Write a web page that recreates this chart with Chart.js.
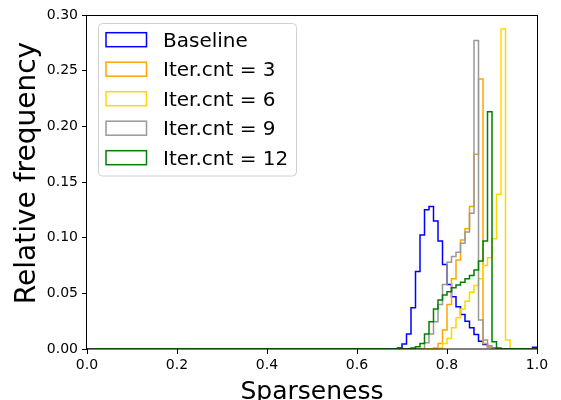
<!DOCTYPE html>
<html><head><meta charset="utf-8">
<script src="https://cdn.jsdelivr.net/npm/chart.js@4.4.0/dist/chart.umd.min.js"></script>
<style>html,body{margin:0;padding:0;background:#fff;}canvas{display:block;}</style>
</head><body>
<canvas id="c" width="561" height="400"></canvas>
<script>
// ---- data ----
const binWidth = 0.01;
const binCount = 100;
const seriesLabels = ['Baseline', 'Iter.cnt = 3', 'Iter.cnt = 6', 'Iter.cnt = 9', 'Iter.cnt = 12'];
const seriesColors = ['#0000ff', '#ffa500', '#ffd700', '#999999', '#008000'];
const xTitle = 'Sparseness';
const yTitle = 'Relative frequency';

// relative frequency per bin; first array entry is the bin index given by *Start
const baselineStart = 69;
const baselineValues = [0.001, 0.0045, 0.0135, 0.037, 0.0695, 0.1025, 0.125, 0.128, 0.115, 0.097,
  0.076, 0.058, 0.047, 0.038, 0.031, 0.025, 0.019, 0.013, 0.007, 0.004, 0.002, 0.001,
  0, 0, 0, 0, 0, 0, 0, 0, 0.0015];
const iter3Start = 77;
const iter3Values = [0.001, 0.005, 0.017, 0.04, 0.063, 0.08, 0.098, 0.108, 0.128, 0.175, 0.2425, 0.005, 0.002];
const iter6Start = 78;
const iter6Values = [0.001, 0.005, 0.0095, 0.019, 0.028, 0.036, 0.043, 0.051, 0.057, 0.063, 0.075, 0.082, 0.099, 0.139, 0.2875, 0.008];
const iter9Start = 75;
const iter9Values = [0.0057, 0.0135, 0.0245, 0.04, 0.058, 0.078, 0.083, 0.087, 0.095, 0.105, 0.122, 0.277, 0.026, 0.008, 0.003, 0.001];
const iter12Start = 72;
const iter12Values = [0.001, 0.002, 0.005, 0.0135, 0.0245, 0.036, 0.044, 0.0485, 0.0515, 0.055, 0.0575, 0.060, 0.063, 0.066, 0.071, 0.079, 0.097, 0.213, 0.0066, 0.001];

const xTicks = [0.0, 0.2, 0.4, 0.6, 0.8, 1.0];
const yTicks = [0.00, 0.05, 0.10, 0.15, 0.20, 0.25, 0.30];

// ---- build ----
function expand(start, vals) {
  const out = new Array(binCount).fill(0);
  vals.forEach((v, i) => { out[start + i] = v; });
  return out;
}
function stepPoints(counts) {
  const pts = [{x: 0, y: 0}];
  for (let i = 0; i < binCount; i++) pts.push({x: +(i * binWidth).toFixed(4), y: counts[i]});
  pts.push({x: +(binCount * binWidth).toFixed(4), y: counts[binCount - 1]});
  pts.push({x: +(binCount * binWidth).toFixed(4), y: 0});
  return pts;
}
const seriesCounts = [
  expand(baselineStart, baselineValues),
  expand(iter3Start, iter3Values),
  expand(iter6Start, iter6Values),
  expand(iter9Start, iter9Values),
  expand(iter12Start, iter12Values)
];
// later series drawn on top (Chart.js draws dataset 0 last)
const datasets = seriesCounts.map((c, i) => ({
  label: seriesLabels[i],
  data: stepPoints(c),
  borderColor: seriesColors[i],
  borderWidth: 1.5,
  pointRadius: 0,
  fill: false,
  stepped: true,
  tension: 0
})).reverse();

const FONT = 'DejaVu Sans';

const framePlugin = {
  id: 'frame',
  afterDatasetsDraw(chart) {
    const {ctx, chartArea: a} = chart;
    ctx.save();
    ctx.strokeStyle = '#000';
    ctx.lineWidth = 1;
    ctx.strokeRect(Math.round(a.left) - 0.5, Math.round(a.top) + 0.5, Math.round(a.right - a.left) + 1, Math.round(a.bottom - a.top) - 0.5);
    ctx.restore();
  }
};

const yTitlePlugin = {
  id: 'yTitle',
  afterDraw(chart) {
    const {ctx, chartArea: a} = chart;
    ctx.save();
    ctx.translate(28, (a.top + a.bottom) / 2 - 9);
    ctx.rotate(-Math.PI / 2);
    ctx.font = '28px "' + FONT + '"';
    ctx.fillStyle = '#000';
    ctx.textAlign = 'center';
    ctx.textBaseline = 'middle';
    ctx.fillText(yTitle, 0, 0);
    ctx.restore();
  }
};

const legendPlugin = {
  id: 'mplLegend',
  afterDraw(chart) {
    const {ctx, chartArea: a} = chart;
    const bx = a.left + 11, by = a.top + 8.5, bw = 198, bh = 152.5, r = 4;
    ctx.save();
    ctx.beginPath();
    ctx.roundRect(bx + 0.5, by, bw, bh, r);
    ctx.fillStyle = 'rgba(255,255,255,0.85)';
    ctx.fill();
    ctx.strokeStyle = '#d0d0d0';
    ctx.lineWidth = 1;
    ctx.stroke();
    ctx.font = '20px "' + FONT + '"';
    ctx.textBaseline = 'alphabetic';
    ctx.fillStyle = '#000';
    for (let i = 0; i < seriesLabels.length; i++) {
      const cy = by + 16.2 + i * 29.5;
      ctx.strokeStyle = seriesColors[i];
      ctx.lineWidth = 1.5;
      ctx.strokeRect(bx + 8, cy - 7, 40.5, 14);
      ctx.fillText(seriesLabels[i], bx + 65, cy + 7.2);
    }
    ctx.restore();
  }
};

new Chart(document.getElementById('c'), {
  type: 'line',
  data: {datasets},
  plugins: [framePlugin, legendPlugin, yTitlePlugin],
  options: {
    responsive: false,
    animation: false,
    devicePixelRatio: 1,
    layout: {padding: {top: 15, right: 24, left: 0, bottom: 0}},
    plugins: {legend: {display: false}, tooltip: {enabled: false}},
    scales: {
      x: {
        type: 'linear', min: 0, max: 1,
        afterBuildTicks: s => { s.ticks = xTicks.map(v => ({value: v})); },
        afterFit: s => { s.height = 51; },
        ticks: {
          color: '#000', font: {family: FONT, size: 14}, padding: 3,
          maxRotation: 0, autoSkip: false,
          callback: v => Number(v).toFixed(1)
        },
        grid: {drawOnChartArea: false, drawTicks: true, tickLength: 5, color: '#000', lineWidth: 1},
        border: {display: false},
        title: {display: true, text: xTitle, color: '#000', font: {family: FONT, size: 25}, padding: {top: 0, bottom: -7}}
      },
      y: {
        type: 'linear', min: 0, max: 0.3,
        afterBuildTicks: s => { s.ticks = yTicks.map(v => ({value: v})); },
        afterFit: s => { s.width = 87; },
        ticks: {
          color: '#000', font: {family: FONT, size: 14}, padding: 4,
          autoSkip: false,
          callback: v => Number(v).toFixed(2)
        },
        grid: {drawOnChartArea: false, drawTicks: true, tickLength: 5, color: '#000', lineWidth: 1},
        border: {display: false},
        title: {display: false}
      }
    }
  }
});
</script>
</body></html>
